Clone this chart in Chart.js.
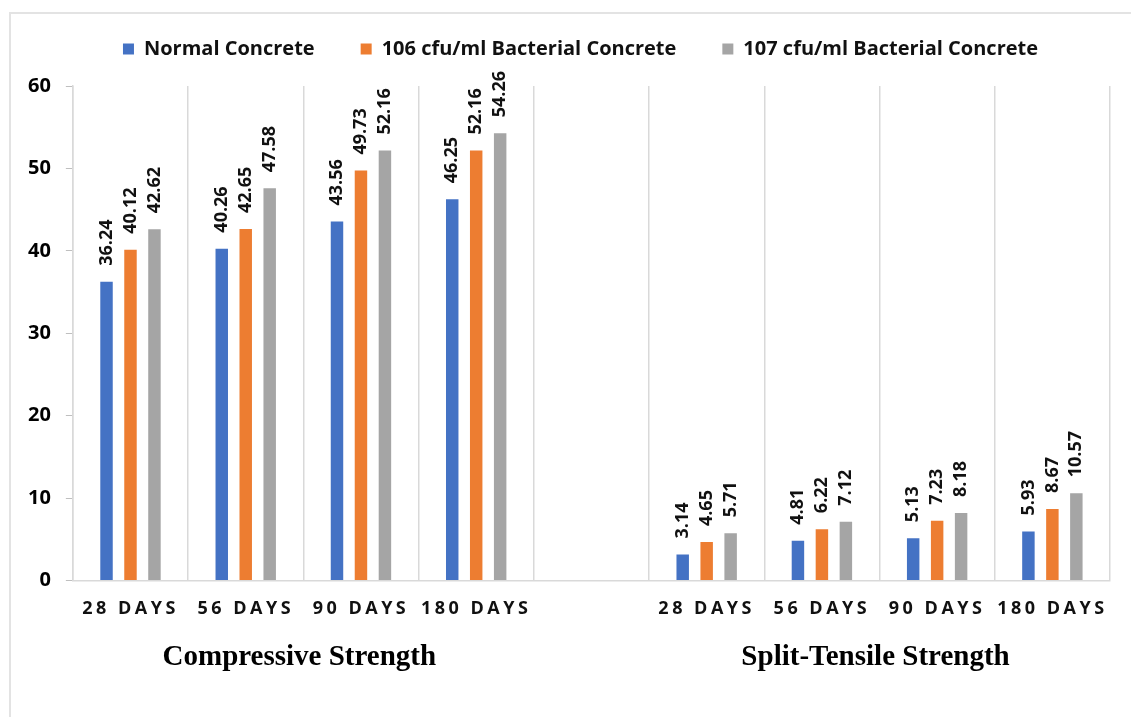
<!DOCTYPE html>
<html>
<head>
<meta charset="utf-8">
<script src="https://cdn.jsdelivr.net/npm/chart.js@4/dist/chart.umd.min.js"></script>
<style>
  html, body { margin: 0; padding: 0; background: #fff; }
  #frame { position: absolute; left: 9px; top: 12px; width: 1200px; height: 800px;
           border-top: 2px solid #e3e3e3; border-left: 2px solid #e3e3e3; }
  #wrap { position: absolute; left: 0; top: 0; width: 1131px; height: 717px; }
</style>
</head>
<body>
<div id="frame"></div>
<div id="wrap"><canvas id="strengthChart"></canvas></div>
<script>
// categories: compressive strength ages, an empty spacer slot, then split-tensile ages
const categories = ['28 DAYS', '56 DAYS', '90 DAYS', '180 DAYS', '', '28 DAYS', '56 DAYS', '90 DAYS', '180 DAYS'];
const groupTitles = ['Compressive Strength', 'Split-Tensile Strength'];
const groupCenters = [1.5, 6.5]; // middle of categories 0-3 and 5-8
const seriesNames = ['Normal Concrete', '106 cfu/ml Bacterial Concrete', '107 cfu/ml Bacterial Concrete'];
const normalConcrete = [36.24, 40.26, 43.56, 46.25, null, 3.14, 4.81, 5.13, 5.93];
const bacterial106 = [40.12, 42.65, 49.73, 52.16, null, 4.65, 6.22, 7.23, 8.67];
const bacterial107 = [42.62, 47.58, 52.16, 54.26, null, 5.71, 7.12, 8.18, 10.57];
const yTicks = [0, 10, 20, 30, 40, 50, 60];

const colors = ['#4472C4', '#ED7D31', '#A5A5A5'];
const FONT = '"Open Sans", "DejaVu Sans", sans-serif';

// value labels, rotated, above each bar
const barLabels = {
    id: 'barLabels',
    afterLayout(chart) {
        // nudge the legend up and to the right, like the original figure
        const lg = chart.legend;
        lg.top -= 17; lg.bottom -= 17;
        lg.left += 19; lg.right += 19;
    },
    afterDatasetsDraw(chart) {
        const c = chart.ctx;
        c.save();
        c.font = 'bold 18px ' + FONT;
        c.fillStyle = '#111';
        c.textAlign = 'left';
        c.textBaseline = 'middle';
        chart.data.datasets.forEach((ds, di) => {
            chart.getDatasetMeta(di).data.forEach((bar, i) => {
                const v = ds.data[i];
                if (v === null) return;
                c.save();
                c.translate(bar.x, bar.y - 16);
                c.rotate(-Math.PI / 2);
                c.fillText(v.toFixed(2), 0, 0);
                c.restore();
            });
        });
        c.restore();
        // spaced-out letters for the x tick labels (drawn after this, z: 1)
        c.letterSpacing = '3.5px';
    },
    afterDraw(chart) {
        const c = chart.ctx;
        c.letterSpacing = '0px';
        const x = chart.scales.x;
        c.save();
        c.font = 'bold 29px "Liberation Serif", "Times New Roman", serif';
        c.fillStyle = '#000';
        c.textAlign = 'center';
        c.textBaseline = 'middle';
        groupTitles.forEach((t, i) => {
            c.fillText(t, x.getPixelForValue(groupCenters[i]) - 4, chart.chartArea.bottom + 77);
        });
        c.restore();
    }
};

const ctx = document.getElementById('strengthChart').getContext('2d');
const strengthChart = new Chart(ctx, {
    type: 'bar',
    data: {
        labels: categories,
        datasets: [normalConcrete, bacterial106, bacterial107].map((vals, i) => ({
            label: seriesNames[i],
            data: vals,
            backgroundColor: colors[i],
            borderWidth: 0,
            categoryPercentage: 0.624,
            barPercentage: 0.52
        }))
    },
    options: {
        responsive: true,
        maintainAspectRatio: false,
        animation: false,
        layout: { padding: { left: 13, right: 21, top: 10, bottom: 79 } },
        plugins: {
            legend: {
                position: 'top',
                labels: {
                    boxWidth: 11,
                    boxHeight: 11,
                    padding: 46,
                    color: '#111',
                    font: { family: FONT, size: 20, weight: 'bold' }
                }
            },
            tooltip: { enabled: false },
            title: { display: false }
        },
        scales: {
            x: {
                grid: { color: '#d9d9d9', drawTicks: false, lineWidth: 1.5 },
                border: { color: '#d9d9d9', width: 1.5 },
                ticks: {
                    z: 1,
                    padding: 18,
                    maxRotation: 0,
                    autoSkip: false,
                    color: '#111',
                    font: { family: FONT, size: 18, weight: 'bold' }
                }
            },
            y: {
                min: 0,
                max: 60,
                afterBuildTicks: (scale) => { scale.ticks = yTicks.map(v => ({ value: v })); },
                grid: { drawOnChartArea: false, drawTicks: true, tickLength: 7, color: '#bfbfbf' },
                border: { color: '#d9d9d9', width: 1.5 },
                ticks: {
                    padding: 15,
                    color: '#000',
                    font: { family: FONT, size: 20, weight: 'bold' }
                }
            }
        }
    },
    plugins: [barLabels]
});
</script>
</body>
</html>
